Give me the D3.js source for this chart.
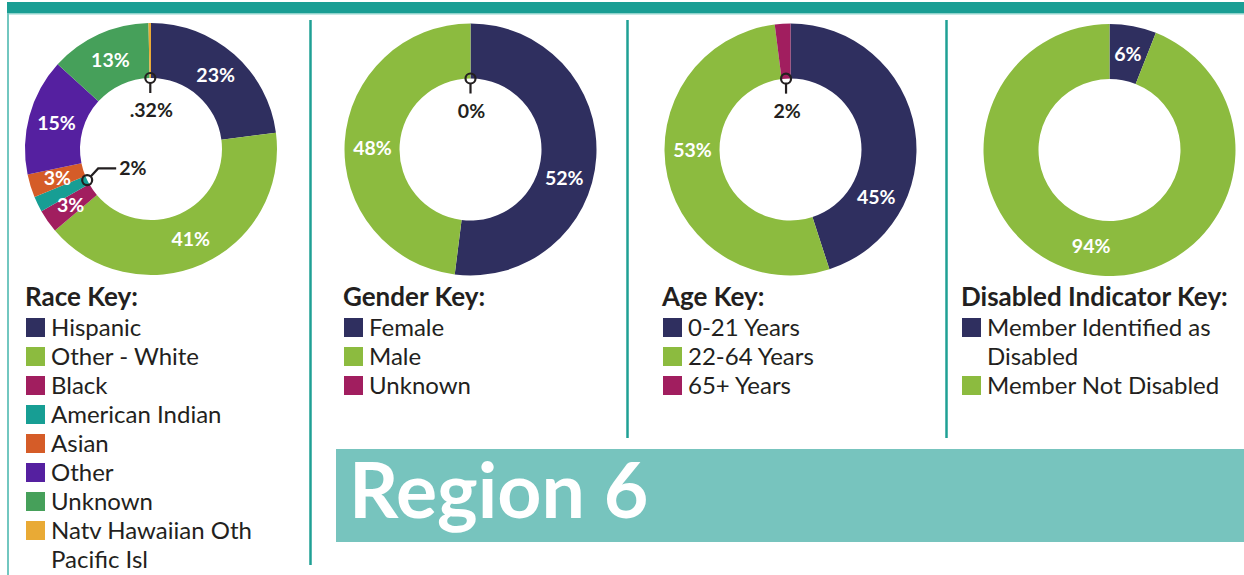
<!DOCTYPE html>
<html>
<head>
<meta charset="utf-8">
<script src="https://cdn.jsdelivr.net/npm/d3@7"></script>
<style>
body{margin:0;background:#fff;}
svg{display:block;font-family:Lato, "Open Sans", sans-serif;}
.pct{fill:#fff;font-weight:700;font-size:19.5px;}
.callout{fill:#231f20;font-weight:700;font-size:19.5px;}
.key-title{font-weight:700;font-size:26px;fill:#231f20;}
.key-item{font-size:24px;fill:#231f20;}
</style>
</head>
<body>
<svg id="chart" width="1244" height="575"></svg>
<script>
// race
var raceCats = ["Hispanic","Other - White","Black","American Indian","Asian","Other","Unknown","Natv Hawaiian Oth Pacific Isl"];
var raceVals = [23,41,3,2,3,15,13,0.32];
var raceText = ["23%","41%","3%","2%","3%","15%","13%",".32%"];

// gender
var genderCats = ["Female","Male","Unknown"];
var genderVals = [52,48,0];
var genderText = ["52%","48%","0%"];

// age
var ageCats = ["0-21 Years","22-64 Years","65+ Years"];
var ageVals = [45,53,2];
var ageText = ["45%","53%","2%"];

// disabled indicator
var disCats = ["Member Identified as Disabled","Member Not Disabled"];
var disVals = [6,94];
var disText = ["6%","94%"];

var regionTitle = "Region 6";

// palette
var navy = "#2f2f5f", lime = "#8cbb3f", plum = "#a11e5f", teal = "#179e94",
    rust = "#d55c28", violet = "#5520a0", forest = "#46a05a", gold = "#e9aa35";

var raceColors = [navy, lime, plum, teal, rust, violet, forest, gold];
var genderColors = [navy, lime, plum];
var ageColors = [navy, lime, plum];
var disColors = [navy, lime];

// how each label is shown: "in" = white label inside ring, "top"/"side" = callout
var raceMode = ["in","in","in","side","in","in","in","top"];
var genderMode = ["in","in","top"];
var ageMode = ["in","in","top"];
var disMode = ["in","in"];

// label angle overrides (deg, clockwise from top); null -> centroid
var raceLabelAng = [null,null,null,null,null,null,null,null];
var genderLabelAng = [107, 271, null];
var ageLabelAng = [119, 269.5, null];
var disLabelAng = [null, null];

var svg = d3.select("#chart");

// frame
svg.append("rect").attr("x",7).attr("y",2).attr("width",1237).attr("height",11).attr("fill","#1a9e94");
svg.append("rect").attr("x",7).attr("y",13).attr("width",1237).attr("height",1.5).attr("fill","#8fd3cc");
svg.append("rect").attr("x",7).attr("y",13).attr("width",2).attr("height",562).attr("fill","#72c7c0");

var dividers = [{x:310.5, y2:565},{x:627.5, y2:438},{x:946.5, y2:438}];
svg.selectAll(".divider").data(dividers).enter().append("line")
  .attr("class","divider")
  .attr("x1",d=>d.x).attr("x2",d=>d.x)
  .attr("y1",20).attr("y2",d=>d.y2)
  .attr("stroke","#1fa095").attr("stroke-width",2.5);

var rIn = 71, rOut = 126, rLab = 98;

function drawDonut(cx, cy, vals, text, colors, modes, labAng){
  var g = svg.append("g").attr("transform","translate(" + cx + "," + cy + ")");
  var pie = d3.pie().sort(null).value(d => d)(vals);
  var arc = d3.arc().innerRadius(rIn).outerRadius(rOut);

  g.selectAll(".slice").data(pie).enter().append("path")
    .attr("class","slice")
    .attr("d", arc)
    .attr("fill", (d,i) => colors[i]);

  pie.forEach(function(d, i){
    var a = labAng[i] != null ? labAng[i] * Math.PI / 180 : (d.startAngle + d.endAngle) / 2;
    if (modes[i] == "in"){
      g.append("text").attr("class","pct")
        .attr("x", Math.sin(a) * rLab).attr("y", -Math.cos(a) * rLab)
        .attr("dy","0.36em").attr("text-anchor","middle")
        .text(text[i]);
    } else {
      var mx = Math.sin(a) * rIn, my = -Math.cos(a) * rIn;
      if (modes[i] == "top"){
        g.append("line").attr("x1",mx).attr("x2",mx).attr("y1",my+5).attr("y2",my+15)
          .attr("stroke","#231f20").attr("stroke-width",2.2);
        g.append("text").attr("class","callout")
          .attr("x", mx + 1).attr("y", my + 32).attr("dy","0.36em")
          .attr("text-anchor","middle").text(text[i]);
      } else {
        g.append("polyline")
          .attr("points", [[mx+3.5,my-3.5],[mx+11,my-11.7],[mx+29,my-11.7]].join(" "))
          .attr("fill","none").attr("stroke","#231f20").attr("stroke-width",2.2);
        g.append("text").attr("class","callout")
          .attr("x", mx + 32).attr("y", my - 11.7).attr("dy","0.36em")
          .text(text[i]);
      }
      g.append("circle").attr("cx",mx).attr("cy",my).attr("r",5)
        .attr("fill","none").attr("stroke","#231f20").attr("stroke-width",2.2);
    }
  });
}

drawDonut(151, 149, raceVals, raceText, raceColors, raceMode, raceLabelAng);
drawDonut(470.5, 149.5, genderVals, genderText, genderColors, genderMode, genderLabelAng);
drawDonut(790.5, 149.5, ageVals, ageText, ageColors, ageMode, ageLabelAng);
drawDonut(1109.5, 150, disVals, disText, disColors, disMode, disLabelAng);

// keys
var rowH = 29;
function drawKey(x, title, cats, colors, maxW){
  var g = svg.append("g").attr("transform","translate(" + x + ",0)");
  g.append("text").attr("class","key-title").attr("x",0).attr("y",306).text(title);
  var row = 0;
  cats.forEach(function(c, i){
    var cyRow = 327.5 + row * rowH;
    g.append("rect").attr("x",1).attr("y",cyRow - 9.5).attr("width",19).attr("height",19)
      .attr("fill",colors[i]);
    // simple word wrap
    var words = c.split(" "), line = [];
    var lines = [];
    var probe = g.append("text").attr("class","key-item");
    words.forEach(function(w){
      var test = line.concat([w]).join(" ");
      probe.text(test);
      if (probe.node().getComputedTextLength() > maxW && line.length){
        lines.push(line.join(" "));
        line = [w];
      } else {
        line.push(w);
      }
    });
    lines.push(line.join(" "));
    probe.remove();
    lines.forEach(function(l){
      g.append("text").attr("class","key-item")
        .attr("x",26).attr("y",327.5 + row * rowH).attr("dy","0.36em").text(l);
      row++;
    });
  });
}

drawKey(25, "Race Key:", raceCats, raceColors, 250);
drawKey(343, "Gender Key:", genderCats, genderColors, 250);
drawKey(662, "Age Key:", ageCats, ageColors, 250);
drawKey(961, "Disabled Indicator Key:", disCats, disColors, 252);

// region banner
svg.append("rect").attr("x",336).attr("y",449).attr("width",908).attr("height",93).attr("fill","#77c4be");
svg.append("text").attr("x",349).attr("y",518)
  .attr("fill","#fff").attr("font-weight",700).attr("font-size",77)
  .text(regionTitle);
</script>
</body>
</html>
